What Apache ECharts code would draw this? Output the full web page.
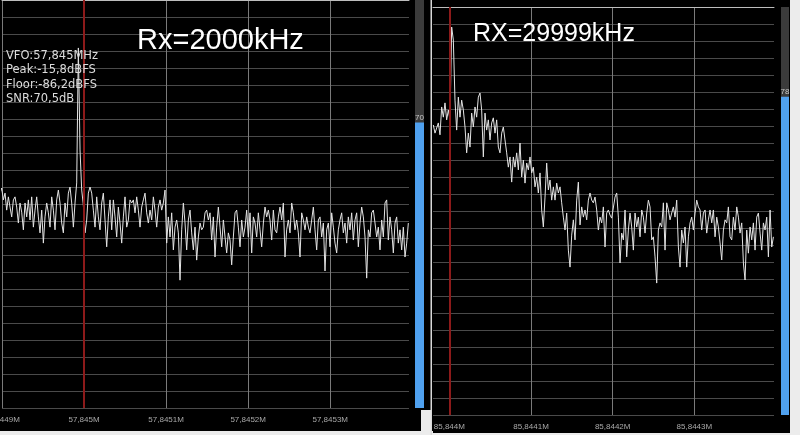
<!DOCTYPE html>
<html>
<head>
<meta charset="utf-8">
<script src="https://cdn.jsdelivr.net/npm/echarts@6/dist/echarts.min.js"></script>
<style>html,body{margin:0;padding:0;background:#000;}#c{width:800px;height:435px;}</style>
</head>
<body>
<div id="c"></div>
<script>
// ---- data ----
const titles = ['Rx=2000kHz', 'RX=29999kHz'];
const infoLines = ['VFO:57,845MHz', 'Peak:-15,8dBFS', 'Floor:-86,2dBFS', 'SNR:70,5dB'];

// left spectrum (dB), FFT bins
const leftStartHz = 57844897.6, leftStepHz = 2.031;
const leftLevels = [
-56.8,-55.3,-58.8,-56.8,-61.8,-57.9,-60.9,-63.8,-58.8,-57.9,
-60.9,-65.6,-59.7,-62.4,-67.6,-59.7,-63.8,-58.8,-64.7,-57.9,
-66.8,-61.8,-57.9,-63.8,-68.5,-61.8,-71.5,-63.8,-59.7,-62.6,
-66.8,-57.9,-61.8,-67.6,-58.8,-55.9,-59.7,-65.6,-68.5,-59.7,
-63.8,-56.8,-55.0,-59.7,-66.8,-59.7,-53.8,-14.1,-44.1,-55.9,
-60.3,-68.5,-64.7,-56.8,-55.0,-56.8,-61.8,-66.8,-57.9,-63.8,
-67.6,-59.7,-56.8,-64.7,-72.6,-63.8,-58.8,-67.6,-58.8,-63.8,
-69.7,-60.9,-65.6,-71.5,-63.8,-57.9,-66.8,-64.7,
-58.8,-59.7,-58.8,-62.6,-57.9,-61.8,-66.8,-60.9,-58.8,-56.8,
-62.6,-65.6,-61.8,-64.7,-57.9,-61.8,-66.8,-60.9,-58.8,-61.8,
-59.7,-55.9,-71.5,-63.8,-69.7,-62.6,-73.5,-66.8,-64.7,-68.5,
-82.4,-67.6,-59.7,-65.6,-73.5,-64.7,-61.8,-68.5,-73.5,-66.8,
-76.5,-69.7,-65.6,-67.6,-66.8,-62.6,-61.8,-64.7,-62.6,-70.6,
-63.8,-75.6,-66.8,-60.9,-66.8,-72.6,-64.7,-69.7,-74.4,-68.5,
-70.6,-77.9,-69.7,-62.6,-61.8,-66.8,-72.6,-64.7,-69.7,-66.8,
-61.8,-69.7,-62.6,-74.4,-63.8,-65.6,-69.7,-62.6,-67.6,-72.6,
-65.6,
-60.9,-63.8,-61.8,-64.7,-70.6,-61.8,-67.6,-68.5,-63.8,-60.9,
-64.7,-59.7,-75.6,-67.6,-64.7,-68.5,-59.7,-62.6,-67.6,-64.7,
-68.5,-75.6,-62.6,-64.7,-67.6,-63.8,-66.8,-68.5,-64.7,-60.9,
-67.6,-73.5,-64.7,-63.8,-69.7,-65.6,-79.7,-67.6,-65.6,-72.6,
-62.6,-66.8,-71.5,-74.4,-67.6,-64.7,-62.6,-68.5,-65.6,-71.5,
-63.8,-67.6,-62.6,-70.6,-64.7,-62.6,-72.6,-65.6,-60.9,-63.8,
-69.7,-81.8,-67.6,-69.7,-62.6,-61.8,-65.6,-69.7,-66.8,-73.5,
-64.7,-69.7,-59.7,-58.8,-70.6,-63.8,-67.6,-74.4,-65.6,-63.8,
-71.5,-67.6,-73.5,-66.8,-75.6,-71.5,-65.6
];

// right spectrum (dB), FFT bins
const rightStartHz = 85843980.4, rightStepHz = 2.041;
const rightLevels = [
-34.7,-37.1,-35.6,-34.1,-37.6,-29.4,-32.4,-28.2,-33.2,-30.3,
-33.2,-5.9,-9.7,-27.4,-36.2,-26.5,-32.4,-27.4,-30.3,-35.3,
-42.9,-37.1,-41.2,-31.2,-35.3,-29.4,-32.4,-26.5,-25.3,-30.3,
-44.1,-31.2,-36.2,-33.2,-39.1,-34.1,-32.6,-37.1,-33.2,-41.2,
-42.9,-37.1,-35.3,-39.1,-42.9,-47.1,-44.1,-51.5,-44.1,-47.1,
-42.9,-47.9,-40.0,-50.0,-45.0,-51.8,-45.9,-47.9,-44.1,-48.8,
-47.1,-52.9,-50.0,-54.7,-48.8,-59.7,-64.7,-55.9,-45.9,-53.8,
-50.9,-56.8,-52.9,-56.8,-51.8,-54.7,-52.9,-57.6,-61.8,-65.6,
-60.6,-71.5,-76.5,-67.1,-62.6,-68.5,-56.8,-51.5,-64.1,-58.8,
-61.8,-59.7,-62.6,-56.8,
-54.7,-56.8,-57.6,-55.9,-59.7,-65.6,-61.8,-63.5,-58.8,-70.6,
-60.6,-59.7,-61.2,-62.1,-62.6,-55.9,-54.7,-61.8,-75.3,-66.5,
-68.5,-59.7,-73.5,-65.6,-60.6,-64.7,-71.5,-60.6,-64.7,-61.8,
-67.6,-59.7,-61.8,-66.5,-60.6,-56.8,-58.8,-68.5,-67.6,-73.5,
-81.2,-65.6,-63.5,-64.7,-57.6,-71.5,-57.6,-59.7,-62.6,-60.6,
-58.8,-61.8,-56.8,-70.6,-76.5,-65.6,-69.4,-64.7,-76.5,-67.6,
-63.5,-61.8,-65.6,-60.6,-56.8,-58.8,-59.7,-65.6,-60.6,-59.7,
-66.5,-62.6,-59.7,-63.5,-59.7,-67.6,-61.8,-64.7,-69.4,-74.4,
-65.6,-62.6,-63.5,-58.8,-67.6,-68.5,-61.8,-65.6,-58.8,-61.8,
-66.5,-63.5,-75.3,-80.3,-65.6,-72.4,-64.7,-68.5,-63.5,-71.5,
-61.8,-60.6,-66.5,-71.5,-63.5,-65.6,-61.8,-73.5,-59.7,-70.6,
-67.6
];

const leftTicks = [57844900, 57845000, 57845100, 57845200, 57845300];
const rightTicks = [85844000, 85844100, 85844200, 85844300];
const leftRange = [57844900, 57845396];
const rightRange = [85843980, 85844397.5];
const leftMarker = 57845000, rightMarker = 85844000;
const leftMeter = 70, rightMeter = 78;

// ---- chart ----
function pairs(start, step, vals) {
  return vals.map((v, i) => [start + i * step, v]);
}
function fmtFreq(v) {
  let s = (v / 1e6).toFixed(4).replace(/0+$/, '');
  return s.replace('.', ',') + 'M';
}
const chart = echarts.init(document.getElementById('c'), null, {renderer: 'canvas'});
const light = '#ececec';

function freqAxis(idx, range, ticks) {
  return {
    type: 'value', gridIndex: idx, min: range[0], max: range[1],
    axisLine: {show: true, lineStyle: {color: '#bdbdbd', width: 1}},
    axisTick: {show: false, customValues: ticks},
    axisLabel: {show: true, customValues: ticks, formatter: fmtFreq, color: '#a8a8a8',
      fontSize: 8, fontFamily: 'Liberation Sans', margin: 8, showMinLabel: true, hideOverlap: false},
    splitLine: {show: true, lineStyle: {color: '#7a7a7a', width: 1}}
  };
}
function levelAxis(idx) {
  return {
    type: 'value', gridIndex: idx, min: -120, max: 0, interval: 5,
    axisLine: {show: false}, axisTick: {show: false}, axisLabel: {show: false},
    splitLine: {show: true, lineStyle: {color: '#4a4a4a', width: 1}}
  };
}
function meterSeries(idx, val) {
  return {
    type: 'bar', xAxisIndex: idx, yAxisIndex: idx, data: [val], barWidth: '100%',
    itemStyle: {color: '#4fa0ee'},
    showBackground: true, backgroundStyle: {color: '#3b3b3b'},
    label: {show: true, position: 'top', distance: 1, fontSize: 8, color: '#c8c8c8',
      fontFamily: 'Liberation Sans'},
    silent: true
  };
}
function traceSeries(idx, data, marker) {
  return {
    type: 'line', xAxisIndex: idx, yAxisIndex: idx, data: data, showSymbol: false,
    lineStyle: {color: '#e4e4e4', width: 1}, clip: true, silent: true,
    markLine: {symbol: ['none', 'none'], silent: true, label: {show: false},
      lineStyle: {color: '#8c1a1a', width: 2, type: 'solid'},
      data: [{xAxis: marker}]}
  };
}
function g(left, top, width, height) {
  return {left: left, top: top, width: width, height: height, containLabel: false, outerBoundsMode: 'none'};
}

const option = {
  backgroundColor: '#000',
  animation: false,
  grid: [
    g(2, 0, 407, 408),
    g(433, 7, 341, 408),
    g(415, 0, 9, 408),
    g(781, 7, 8, 408)
  ],
  xAxis: [
    freqAxis(0, leftRange, leftTicks),
    freqAxis(1, rightRange, rightTicks),
    {type: 'category', gridIndex: 2, data: ['L'], show: false},
    {type: 'category', gridIndex: 3, data: ['R'], show: false}
  ],
  yAxis: [
    levelAxis(0), levelAxis(1),
    {type: 'value', gridIndex: 2, min: 0, max: 100, show: false},
    {type: 'value', gridIndex: 3, min: 0, max: 100, show: false}
  ],
  series: [
    traceSeries(0, pairs(leftStartHz, leftStepHz, leftLevels), leftMarker),
    traceSeries(1, pairs(rightStartHz, rightStepHz, rightLevels), rightMarker),
    meterSeries(2, leftMeter),
    meterSeries(3, rightMeter)
  ],
  graphic: [
    {type: 'rect', z: 50, silent: true, shape: {x: 0, y: 431, width: 433, height: 4}, style: {fill: light}},
    {type: 'rect', z: 50, silent: true, shape: {x: 421, y: 410, width: 11, height: 25}, style: {fill: light}},
    {type: 'rect', z: 50, silent: true, shape: {x: 430.5, y: 0, width: 1.5, height: 435}, style: {fill: '#d8d8d8'}},
    {type: 'rect', z: 50, silent: true, shape: {x: 432, y: 433, width: 368, height: 2}, style: {fill: light}},
    {type: 'rect', z: 50, silent: true, shape: {x: 790, y: 0, width: 10, height: 435}, style: {fill: light}},
    {type: 'text', z: 60, left: 137, top: 26, style: {text: titles[0], fill: '#ffffff',
      font: '29px "Liberation Sans", Arial, sans-serif'}},
    {type: 'text', z: 60, left: 473, top: 22, style: {text: titles[1], fill: '#ffffff',
      font: '25px "Liberation Sans", Arial, sans-serif'}},
    {type: 'text', z: 60, left: 6, top: 49, style: {text: infoLines.join('\n'), fill: '#dcdcdc',
      font: '11.5px "DejaVu Sans", sans-serif', lineHeight: 14.3}}
  ]
};
chart.setOption(option);
</script>
</body>
</html>
